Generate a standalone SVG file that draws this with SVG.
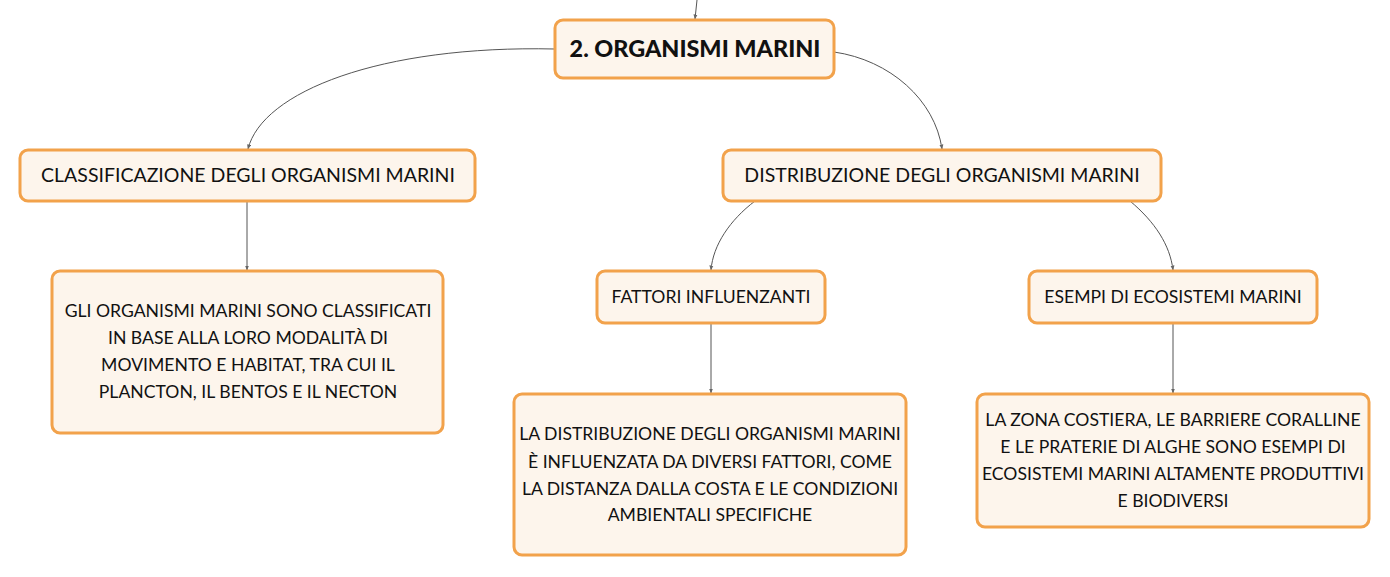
<svg xmlns="http://www.w3.org/2000/svg" width="1390" height="577" viewBox="0 0 1390 577">
<defs>
<marker id="ah" viewBox="0 0 10 10" refX="9" refY="5" markerWidth="5" markerHeight="5" orient="auto-start-reverse" markerUnits="userSpaceOnUse">
<path d="M0,1 L10,5 L0,9 z" fill="#666"/>
</marker>
</defs>
<style>
.box{fill:#FDF5EC;stroke:#F2A24B;stroke-width:3}
.t{font-family:Lato,"Open Sans","Liberation Sans",sans-serif;font-size:17.6px;fill:#111;text-anchor:middle}
.h{font-family:Lato,"Open Sans","Liberation Sans",sans-serif;font-size:19.5px;fill:#111;text-anchor:middle}
.root{font-family:Lato,"Open Sans","Liberation Sans",sans-serif;font-size:23.4px;font-weight:900;fill:#111;text-anchor:middle}
.c{fill:none;stroke:#555;stroke-width:1;marker-end:url(#ah)}
</style>
<rect width="1390" height="577" fill="#fff"/>
<g id="connectors">
<path class="c" d="M697,0 L695,19"/>
<path class="c" d="M555,49 C380,45 262,92 248,149"/>
<path class="c" d="M834,52 C890,60 935,100 942,149"/>
<path class="c" d="M247,201 L247,270"/>
<path class="c" d="M755,201 C730,220 713,245 711,270"/>
<path class="c" d="M1130,201 C1155,222 1170,245 1173,270"/>
<path class="c" d="M711,323 L711,393"/>
<path class="c" d="M1173,323 L1173,393"/>
</g>
<g id="root">
<rect class="box" x="555" y="20" width="279" height="58" rx="8"/>
<text class="root" x="695" y="57">2. ORGANISMI MARINI</text>
</g>
<g id="classificazione">
<rect class="box" x="20" y="150" width="455" height="51" rx="8"/>
<text class="h" x="248" y="182">CLASSIFICAZIONE DEGLI ORGANISMI MARINI</text>
</g>
<g id="distribuzione">
<rect class="box" x="723" y="150" width="438" height="51" rx="8"/>
<text class="h" x="942" y="182">DISTRIBUZIONE DEGLI ORGANISMI MARINI</text>
</g>
<g id="classificazione-dettaglio">
<rect class="box" x="52" y="271" width="391" height="162" rx="8"/>
<text class="t" x="248" y="317">GLI ORGANISMI MARINI SONO CLASSIFICATI</text>
<text class="t" x="248" y="344">IN BASE ALLA LORO MODALITÀ DI</text>
<text class="t" x="248" y="371">MOVIMENTO E HABITAT, TRA CUI IL</text>
<text class="t" x="248" y="398">PLANCTON, IL BENTOS E IL NECTON</text>
</g>
<g id="fattori">
<rect class="box" x="597" y="271" width="228" height="52" rx="8"/>
<text class="t" x="711" y="303">FATTORI INFLUENZANTI</text>
</g>
<g id="esempi">
<rect class="box" x="1029" y="271" width="288" height="52" rx="8"/>
<text class="t" x="1173" y="303">ESEMPI DI ECOSISTEMI MARINI</text>
</g>
<g id="fattori-dettaglio">
<rect class="box" x="514" y="394" width="392" height="161" rx="8"/>
<text class="t" x="710" y="440">LA DISTRIBUZIONE DEGLI ORGANISMI MARINI</text>
<text class="t" x="710" y="468">È INFLUENZATA DA DIVERSI FATTORI, COME</text>
<text class="t" x="710" y="495">LA DISTANZA DALLA COSTA E LE CONDIZIONI</text>
<text class="t" x="710" y="521">AMBIENTALI SPECIFICHE</text>
</g>
<g id="esempi-dettaglio">
<rect class="box" x="977" y="394" width="392" height="133" rx="8"/>
<text class="t" x="1173" y="426">LA ZONA COSTIERA, LE BARRIERE CORALLINE</text>
<text class="t" x="1173" y="453">E LE PRATERIE DI ALGHE SONO ESEMPI DI</text>
<text class="t" x="1173" y="480">ECOSISTEMI MARINI ALTAMENTE PRODUTTIVI</text>
<text class="t" x="1173" y="507">E BIODIVERSI</text>
</g>
</svg>
